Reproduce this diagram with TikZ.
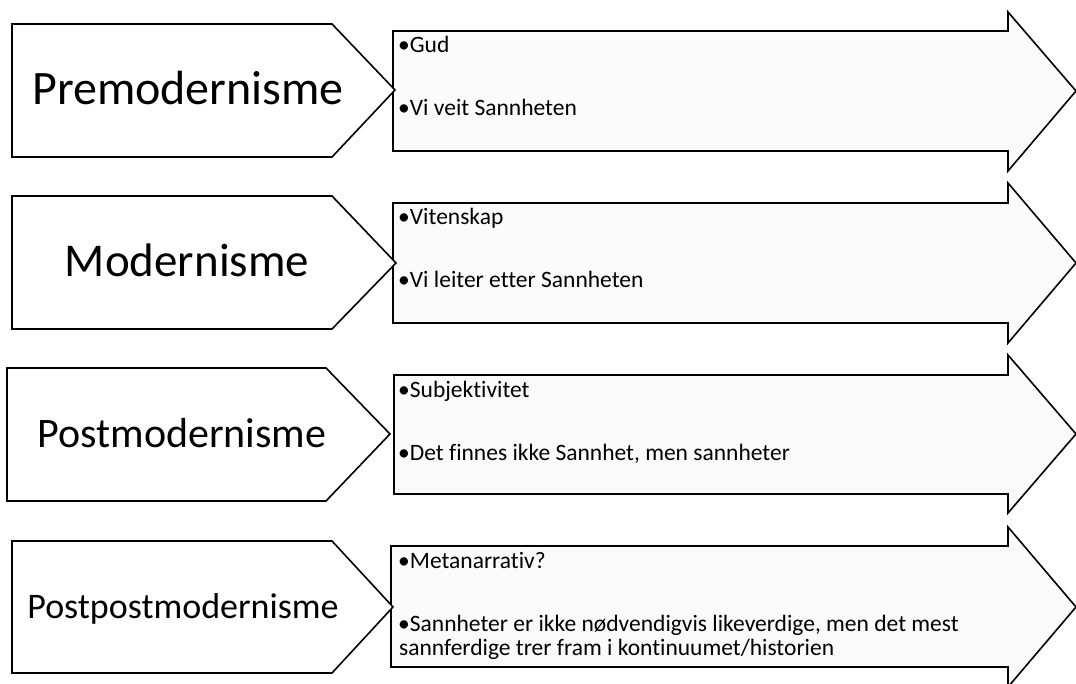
\documentclass[tikz,border=0pt]{standalone}
\usepackage{fontspec}
\setmainfont{Carlito}[Ligatures=NoCommon]

\begin{document}
\begin{tikzpicture}[x=1pt,y=-1pt]
 	\tikzstyle{every node}+=[inner sep=0pt]
 	\tikzstyle{tag}=[draw=black, line width=1.6pt, fill=white, line join=miter]
 	\tikzstyle{flow}=[draw=black, line width=1.6pt, fill=black!2, line join=miter]
 	\tikzstyle{era}=[anchor=base]
 	\tikzstyle{item}=[anchor=base west, align=left, font=\fontsize{23.5}{24}\selectfont]
 	\useasboundingbox (0,0) rectangle (1076,684);
 	% Premodernisme
 	\draw [flow] (393,31) -- (1008,31) -- (1008,12) -- (1076,91) -- (1008,171) -- (1008,151) -- (393,151) -- cycle;
 	\draw [tag] (12,24) -- (332,24) -- (395,90) -- (332,157) -- (12,157) -- cycle;
 	\node (pre) at (188,105) [era, font=\fontsize{48}{50}\selectfont] {Premodernisme};
 	\node (preA) at (398,53) [item] {•Gud};
 	\node (preB) at (398,116) [item] {•Vi veit Sannheten};
 	% Modernisme
 	\draw [flow] (393,203) -- (1008,203) -- (1008,183) -- (1076,263) -- (1008,343) -- (1008,323) -- (393,323) -- cycle;
 	\draw [tag] (12,196) -- (332,196) -- (396,263) -- (332,329) -- (12,329) -- cycle;
 	\node (mod) at (187,277) [era, font=\fontsize{47}{50}\selectfont] {Modernisme};
 	\node (modA) at (398,225) [item] {•Vitenskap};
 	\node (modB) at (398,288) [item] {•Vi leiter etter Sannheten};
 	% Postmodernisme
 	\draw [flow] (394,375) -- (1008,375) -- (1008,355) -- (1076,434) -- (1008,513) -- (1008,494) -- (394,494) -- cycle;
 	\draw [tag] (7,368) -- (326,368) -- (390,434) -- (326,501) -- (7,501) -- cycle;
 	\node (post) at (182,447) [era, font=\fontsize{42}{45}\selectfont] {Postmodernisme};
 	\node (postA) at (398,397) [item] {•Subjektivitet};
 	\node (postB) at (398,460) [item] {•Det finnes ikke Sannhet, men sannheter};
 	% Postpostmodernisme
 	\draw [flow] (391,546) -- (1008,546) -- (1008,527) -- (1076,607) -- (1008,687) -- (1008,667) -- (391,667) -- cycle;
 	\draw [tag] (12,541) -- (332,541) -- (393,607) -- (332,673) -- (12,673) -- cycle;
 	\node (ppost) at (183,618) [era, font=\fontsize{36}{40}\selectfont] {Postpostmodernisme};
 	\node (ppostA) at (398,568) [item] {•Metanarrativ?};
 	\node (ppostB) at (398,655) [item] {•Sannheter er ikke nødvendigvis likeverdige, men det mest\\ \hspace{1pt}sannferdige trer fram i kontinuumet/historien};
\end{tikzpicture}
\end{document}
